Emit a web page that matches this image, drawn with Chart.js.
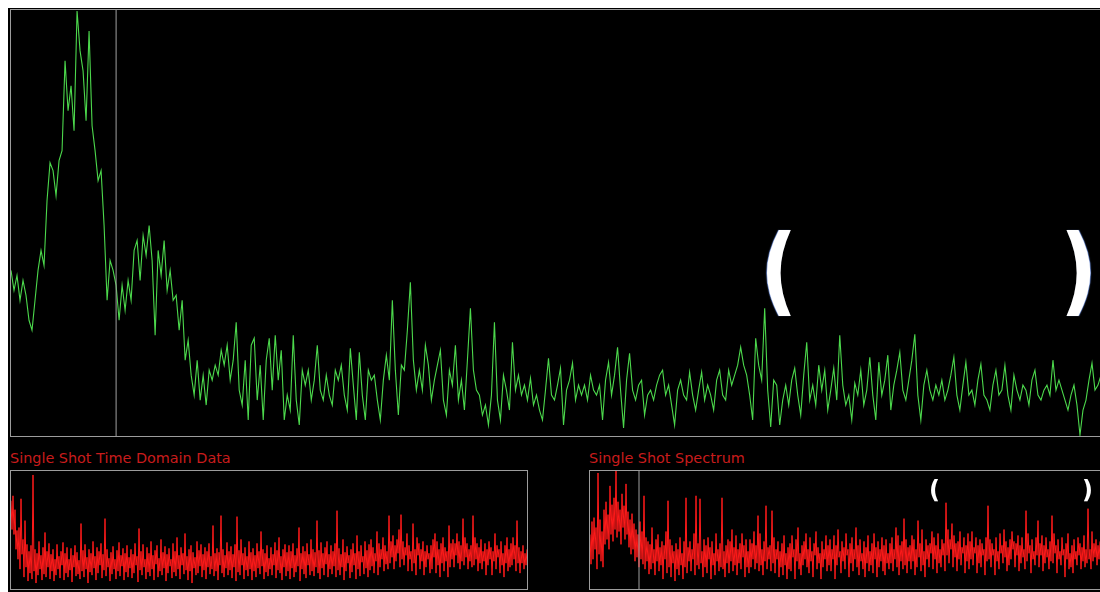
<!DOCTYPE html>
<html>
<head>
<meta charset="utf-8">
<script src="https://cdn.jsdelivr.net/npm/chart.js@4/dist/chart.umd.min.js"></script>
<style>
  html, body { margin: 0; padding: 0; background: #ffffff; width: 1100px; height: 592px; overflow: hidden; }
  #stage { position: absolute; left: 8px; top: 8px; width: 1200px; height: 700px; background: #000; }
  .box { position: absolute; border: 1px solid #9c9c9c; background: #000; }
  .box canvas { position: absolute; left: 0; top: 0; }
  .title { position: absolute; color: #c81c1c; font-family: "DejaVu Sans", sans-serif; font-size: 14.4px; line-height: 16px; white-space: nowrap; }
  .par { position: absolute; color: #ffffff; font-family: "DejaVu Sans", sans-serif; font-weight: bold; line-height: 1; white-space: nowrap; }
</style>
</head>
<body>
<div id="stage"></div>
<div class="box" id="boxTop" style="left:10px; top:9px; width:1100px; height:426px;"><canvas id="cTop" width="1090" height="426"></canvas></div>
<div class="title" style="left:10px; top:450px;">Single Shot Time Domain Data</div>
<div class="box" id="boxL" style="left:10px; top:470px; width:516px; height:118px;"><canvas id="cL" width="516" height="118"></canvas></div>
<div class="title" style="left:589px; top:450px;">Single Shot Spectrum</div>
<div class="box" id="boxR" style="left:589px; top:470px; width:600px; height:118px;"><canvas id="cR" width="510" height="118"></canvas></div>
<div class="par" style="left:760px; top:222px; font-size:96px; transform:scaleX(0.85); transform-origin:left top; text-shadow:-1px 0 1px #6f8fd8;">(</div>
<div class="par" style="left:1060px; top:222px; font-size:96px; transform:scaleX(0.85); transform-origin:left top; text-shadow:1px 0 1px #6f8fd8;">)</div>
<div class="par" style="left:929px; top:478px; font-size:24px;">(</div>
<div class="par" style="left:1082px; top:478px; font-size:24px;">)</div>
<script>
// ---- Data ----
// Main averaged spectrum (green), amplitude units 0..427
const mainAmplitude = [
166,146,161,136,156,141,116,106,136,166,186,171,
236,274,266,241,276,286,376,326,351,306,426,386,366,316,406,311,286,256,266,211,136,176,
166,151,116,151,126,156,136,186,196,156,201,181,211,176,101,186,161,196,146,166,136,141,106,136,76,96,61,41,76,36,
61,31,66,56,71,61,86,71,91,56,76,114,46,31,76,16,
91,98,36,71,16,76,98,46,101,56,86,16,41,26,101,36,11,66,51,66,36,56,91,46,36,61,41,31,66,56,71,41,26,88,51,16,84,41,16,66,56,61,36,16,56,81,56,136,66,21,71,66,106,154,76,46,66,46,91,71,36,56,71,86,36,21,66,51,91,36,56,26,76,128,66,46,41,21,31,11,41,114,36,16,61,46,26,94,46,61,41,51,36,58,31,41,26,16,46,78,
41,36,51,68,11,46,56,73,36,51,41,51,36,61,46,41,51,16,56,74,41,61,89,46,8,56,83,46,36,51,56,21,41,46,36,51,61,66,41,51,31,11,46,56,41,36,64,41,26,46,64,36,51,41,26,56,66,41,36,66,51,61,71,89,71,61,41,16,98,71,56,128,46,9,56,
51,11,36,51,31,56,68,41,21,61,94,36,51,31,71,46,66,26,46,68,36,101,51,31,41,16,53,41,66,31,46,79,41,16,74,41,56,81,26,51,66,84,46,36,56,76,102,41,16,51,66,46,36,51,41,56,36,46,61,79,41,26,51,74,41,46,31,56,72,41,36,26,51,66,41,46,71,41,26,61,46,36,51,46,31,56,66,41,36,46,51,41,76,46,56,46,36,26,41,51,31,1,26,36,56,73,46,51,61
];
const mainMarkerIndex = 35;
const mainMax = 427;

// Single shot time domain data (red), amplitude units 0..119
const timeDomain = [
89,60,94,55,80,40,59,30,62,20,91,35,50,12,69,22,45,8,38,16,
44,10,115,18,40,6,36,14,48,20,34,9,42,15,57,12,38,22,46,10,
35,18,40,8,30,14,45,20,33,11,38,24,47,9,36,16,42,12,30,19,
41,7,34,22,44,13,37,15,29,10,66,18,39,12,45,20,32,6,40,17,
36,14,48,21,33,9,42,16,38,24,46,11,35,19,71,13,40,22,31,8,
37,15,43,20,30,10,39,18,47,13,34,23,41,9,36,17,44,12,32,21,
40,11,35,16,46,24,33,7,61,19,38,14,45,22,30,10,42,17,36,13,
48,20,34,9,39,25,44,12,31,18,50,14,37,21,43,8,35,16,41,23,
30,11,46,17,38,13,52,20,34,10,42,24,36,15,56,19,33,9,40,18,
44,6,37,21,32,14,48,16,39,23,45,12,35,19,42,10,38,22,46,15,
33,20,64,13,36,18,41,9,37,24,74,16,40,12,34,21,47,14,38,19,
43,11,35,22,45,8,73,17,39,14,50,24,36,10,42,19,33,13,48,20,
37,9,41,18,34,12,46,21,38,15,58,23,40,10,36,17,44,13,31,20,
42,14,35,24,47,11,39,19,52,16,33,9,40,22,45,13,37,18,44,10,
38,21,46,12,34,17,41,23,62,8,36,20,43,15,38,11,46,24,35,14,
50,18,40,13,37,22,69,16,39,10,47,21,36,14,42,25,48,12,35,20,
44,15,38,23,46,12,79,19,41,14,35,22,50,9,37,18,43,26,34,11,
40,17,46,24,36,10,54,20,38,13,44,27,33,15,48,21,39,12,45,19,
50,23,42,16,36,28,58,14,46,22,40,30,52,18,44,25,38,20,74,26,
48,32,54,20,44,28,50,36,60,22,75,30,48,24,42,34,56,18,44,30,
38,18,66,26,40,14,52,34,46,20,40,28,48,14,38,22,44,30,36,16,
44,20,50,32,56,16,48,24,40,12,46,26,52,18,42,28,38,12,64,22,
46,30,50,22,46,34,56,26,48,20,44,28,71,24,52,32,46,20,40,28,
44,22,74,24,52,30,46,18,42,26,50,20,38,28,46,14,40,24,48,30,
42,14,38,28,56,20,44,32,40,16,48,24,36,12,44,26,52,18,40,22,
46,24,52,30,44,18,69,26,42,16,38,26,44,20,36,24,40
];

// Single shot spectrum (red), amplitude units 0..119
const shotSpectrum = [
55,25,68,30,72,40,62,20,117,35,70,28,58,22,80,45,88,50,75,40,
104,55,85,48,92,60,119,52,88,58,80,45,96,62,84,50,106,55,78,42,
70,35,76,40,66,28,60,32,55,22,68,30,58,25,94,20,52,28,48,15,
45,20,62,26,40,14,50,28,55,18,42,24,48,10,44,30,58,16,89,22,
50,12,44,26,38,8,46,20,40,14,52,24,36,10,48,22,92,16,42,28,
48,18,40,30,56,14,94,24,46,20,91,26,38,12,50,22,44,16,52,30,
42,10,48,24,36,14,56,28,40,18,46,22,92,20,38,12,44,26,50,16,
48,28,60,18,42,24,54,14,40,26,46,20,56,32,44,12,50,22,38,16,
50,22,46,30,58,20,44,26,74,18,56,24,40,14,48,28,84,20,42,30,
44,18,79,26,52,16,40,30,48,12,38,22,46,14,54,24,36,10,42,20,
46,18,54,32,40,10,50,28,62,20,36,14,44,24,48,30,56,22,40,16,
52,28,38,12,46,34,58,20,42,26,36,10,48,22,40,30,54,18,44,24,
50,18,40,30,54,10,44,24,60,32,38,16,48,28,42,20,56,34,40,12,
46,26,52,18,40,30,62,22,44,14,50,28,36,20,48,12,42,26,54,18,
38,24,46,16,56,30,42,12,48,22,40,28,52,18,44,14,50,26,36,20,
46,26,52,18,40,30,62,22,54,14,44,28,48,20,71,24,50,16,42,28,
44,20,54,28,50,14,40,22,69,32,46,18,60,24,38,12,50,30,44,22,
46,36,58,20,52,30,44,16,56,26,40,22,50,34,46,18,87,34,60,26,
50,40,66,22,54,32,46,18,48,30,58,24,42,36,52,16,44,28,56,20,
48,30,58,24,42,36,52,16,44,26,50,22,46,34,40,14,52,28,84,30,
50,22,46,34,40,14,52,28,38,20,56,36,44,26,60,32,48,18,42,24,
50,30,58,40,48,22,46,34,54,18,44,26,52,32,40,20,79,28,56,36,
44,16,50,30,38,24,52,34,69,22,46,34,54,18,44,26,52,32,40,20,
48,28,74,26,56,36,44,16,50,30,38,24,52,34,40,12,46,30,56,20,
36,22,44,16,50,30,38,24,52,34,46,20,42,28,54,22,40,26,81,30,
40,20,58,28,46,32,50,24,44,30,48
];
const spectrumMarkerIndex = 49;
const smallMax = 119;

// ---- Chart builder ----
function toXY(arr) { return arr.map((v, i) => ({ x: i, y: v })); }

function makeChart(id, values, color, width, yMax, markerIdx) {
  const datasets = [{
    data: toXY(values), borderColor: color, borderWidth: width,
    pointRadius: 0, tension: 0, fill: false
  }];
  if (markerIdx !== null) {
    datasets.unshift({
      data: [{ x: markerIdx, y: 0 }, { x: markerIdx, y: yMax }],
      borderColor: '#a0a0a0', borderWidth: 1, pointRadius: 0, fill: false
    });
  }
  return new Chart(document.getElementById(id), {
    type: 'line',
    data: { datasets },
    options: {
      responsive: false, animation: false, devicePixelRatio: 1,
      layout: { padding: 0 },
      plugins: { legend: { display: false }, tooltip: { enabled: false } },
      scales: {
        x: { type: 'linear', display: false, min: 0, max: values.length - 1 },
        y: { type: 'linear', display: false, min: 0, max: yMax }
      }
    }
  });
}

makeChart('cTop', mainAmplitude, '#4cd84c', 1.1, mainMax, mainMarkerIndex);
makeChart('cL', timeDomain, '#ff1a1a', 1, smallMax, null);
makeChart('cR', shotSpectrum, '#ff1a1a', 1, smallMax, spectrumMarkerIndex);
</script>
</body>
</html>
